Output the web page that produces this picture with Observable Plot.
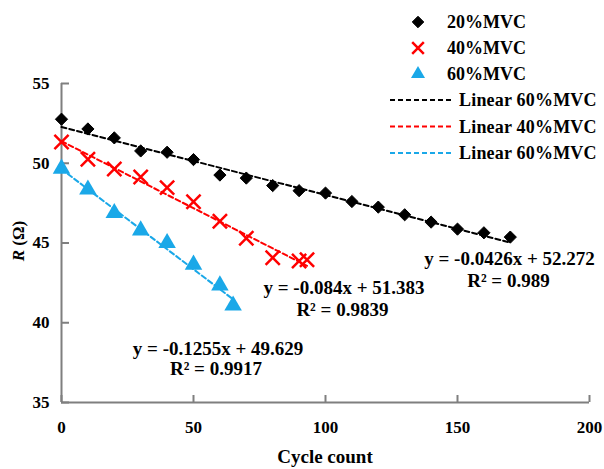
<!DOCTYPE html>
<html><head><meta charset="utf-8">
<script src="https://cdn.jsdelivr.net/npm/d3@7"></script>
<script src="https://cdn.jsdelivr.net/npm/@observablehq/plot@0.6"></script>
<style>
body{margin:0;background:#fff;}
svg{font-family:"Liberation Serif","Times New Roman",serif;}
</style>
</head><body>
<div id="chart"></div>
<script>
// Data
const cycles20 = [0,10,20,30,40,50,60,70,80,90,100,110,120,130,140,150,160,170];
const r20 = [52.76,52.15,51.59,50.77,50.69,50.23,49.26,49.07,48.6,48.28,48.13,47.6,47.25,46.77,46.31,45.87,45.64,45.37];
const cycles40 = [0,10,20,30,40,50,60,70,80,90,93];
const r40 = [51.33,50.25,49.64,49.14,48.47,47.59,46.36,45.3,44.08,43.87,43.95];
const cycles60 = [0,10,20,30,40,50,60,65];
const r60 = [49.66,48.35,46.88,45.79,45.0,43.64,42.34,41.08];
const seriesNames = ["20%MVC","40%MVC","60%MVC"];
const trendNames = ["Linear 60%MVC","Linear 40%MVC","Linear 60%MVC"];
const slopes = [-0.0426,-0.084,-0.1255];
const intercepts = [52.272,51.383,49.629];
const fitEnds = [170,93,65];
const eqLabels = ["y = -0.0426x + 52.272","y = -0.084x + 51.383","y = -0.1255x + 49.629"];
const r2Labels = ["R² = 0.989","R² = 0.9839","R² = 0.9917"];
const xTicks = [0,50,100,150,200];
const yTicks = [35,40,45,50,55];

const colors = ["#000000","#ff0000","#1aa8e8"];

const pts = (xs, ys) => xs.map((x,i)=>({x, y: ys[i]}));
const d20 = pts(cycles20, r20), d40 = pts(cycles40, r40), d60 = pts(cycles60, r60);
const fits = slopes.map((m,i)=>[0, fitEnds[i]].map(x=>({x, y: intercepts[i] + m*x})));

const axisColor = "#7f7f7f";
const eqStyle = {fontSize: 19, fontWeight: "bold", fill: "#000"};
const plot = Plot.plot({
  width: 604, height: 469,
  marginLeft: 61, marginRight: 15, marginTop: 83, marginBottom: 67,
  x: {domain: [0,200]},
  y: {domain: [35,55]},
  style: {fontFamily: "Liberation Serif, Times New Roman, serif", fontSize: "17px", fontWeight: "bold", background: "#fff"},
  marks: [
    Plot.ruleY([35], {stroke: axisColor, strokeWidth: 2}),
    Plot.ruleX([0], {stroke: axisColor, strokeWidth: 2}),
    Plot.ruleX(xTicks, {x: d=>d, y1: 35, y2: 35 + 7/15.93, stroke: axisColor, strokeWidth: 2}),
    Plot.ruleY(yTicks, {y: d=>d, x1: 0, x2: 8/2.64, stroke: axisColor, strokeWidth: 2}),
    Plot.axisX({ticks: xTicks, tickSize: 0, tickPadding: 18, label: null, fill: "#000", fontSize: 17, fontWeight: "bold"}),
    Plot.axisY({ticks: yTicks, tickSize: 0, tickPadding: 12, label: null, fill: "#000", fontSize: 17, fontWeight: "bold"}),
    Plot.line(fits[0], {x: "x", y: "y", stroke: colors[0], strokeWidth: 2, strokeDasharray: "5,3"}),
    Plot.line(fits[1], {x: "x", y: "y", stroke: colors[1], strokeWidth: 2, strokeDasharray: "5,3"}),
    Plot.line(fits[2], {x: "x", y: "y", stroke: colors[2], strokeWidth: 2, strokeDasharray: "5,3"}),
    Plot.dot(d20, {x: "x", y: "y", symbol: "diamond2", fill: colors[0], stroke: colors[0], strokeWidth: 1, r: 5.5}),
    Plot.dot(d40, {x: "x", y: "y", symbol: "times", stroke: colors[1], strokeWidth: 2.5, r: 6.5}),
    Plot.dot(d60, {x: "x", y: "y", symbol: "triangle", fill: colors[2], r: 6.5}),
    Plot.text([eqLabels[0]], {x: 169.7, y: 44.03, text: d=>d, ...eqStyle}),
    Plot.text([r2Labels[0]], {x: 169.3, y: 42.6, text: d=>d, ...eqStyle}),
    Plot.text([eqLabels[1]], {x: 107, y: 42.2, text: d=>d, ...eqStyle}),
    Plot.text([r2Labels[1]], {x: 106.4, y: 40.83, text: d=>d, ...eqStyle}),
    Plot.text([eqLabels[2]], {x: 59.3, y: 38.38, text: d=>d, ...eqStyle}),
    Plot.text([r2Labels[2]], {x: 58.5, y: 37.12, text: d=>d, ...eqStyle})
  ]
});
document.getElementById("chart").appendChild(plot);

const svg = d3.select(plot);
// axis titles
svg.append("text").attr("x", 325).attr("y", 463).attr("text-anchor","middle")
  .attr("font-size",19).attr("font-weight","bold").attr("fill","#000").text("Cycle count");
const yl = svg.append("text").attr("transform","translate(24,241) rotate(-90)").attr("text-anchor","middle")
  .attr("font-size",17).attr("font-weight","bold").attr("fill","#000");
yl.append("tspan").attr("font-style","italic").text("R");
yl.append("tspan").text(" (Ω)");

// legend
const lg = svg.append("g").attr("text-anchor","start");
const symTypes = [d3.symbolDiamond2, d3.symbolTimes, d3.symbolTriangle];
seriesNames.forEach((name,i)=>{
  const cy = 22 + i*26;
  const p = lg.append("path").attr("transform",`translate(418,${cy})`)
    .attr("d", d3.symbol(symTypes[i], i===1 ? 90 : 85)());
  if (i===1) p.attr("fill","none").attr("stroke",colors[1]).attr("stroke-width",2.5);
  else p.attr("fill",colors[i]).attr("stroke", i===0 ? colors[0] : "none");
  lg.append("text").attr("x",447).attr("y",cy+6).attr("font-size",18).attr("font-weight","bold").attr("fill","#000").text(name);
});
trendNames.forEach((name,i)=>{
  const cy = 100 + i*26.5;
  lg.append("line").attr("x1",390).attr("x2",453).attr("y1",cy).attr("y2",cy)
    .attr("stroke",colors[i]).attr("stroke-width",2).attr("stroke-dasharray","5,3");
  lg.append("text").attr("x",459).attr("y",cy+6).attr("font-size",18).attr("font-weight","bold")
    .attr("letter-spacing","0.2px").attr("fill","#000").text(name);
});
</script>
</body></html>
